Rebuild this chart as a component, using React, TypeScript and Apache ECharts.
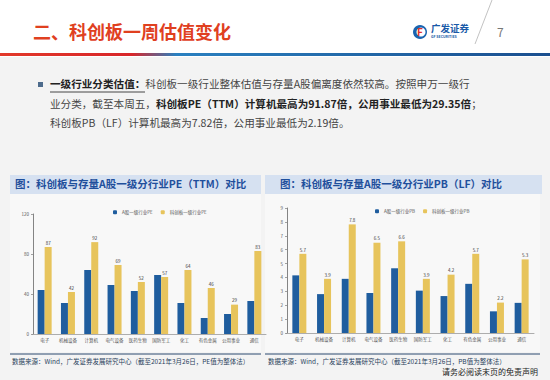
import React, { useEffect, useRef } from "react";
import * as echarts from "echarts";

const categories = ["电子", "机械设备", "计算机", "电气设备", "医药生物", "国防军工", "化工", "有色金属", "公用事业", "通信"];
const peA = [44, 31, 64, 49, 43, 59, 31, 16, 20, 33];
const peStar = [87, 42, 91.87, 69, 52, 57, 64, 46, 29.35, 83];
const pbA = [4.15, 2.8, 3.9, 2.88, 4.66, 3.05, 2.66, 3.54, 1.56, 2.17];
const pbStar = [5.7, 3.9, 7.82, 6.5, 6.6, 3.9, 4.2, 5.7, 2.19, 5.3];
const seriesNames = ["A股一级行业PE", "科创板一级行业PE", "A股一级行业PB", "科创板一级行业PB"];

const FONT = "'Noto Sans CJK SC', 'Noto Sans', sans-serif";
const BLUE = "#1f5d9e";
const YELLOW = "#e7c45c";
const BODY = 10.6;

export default function App() {
  const ref = useRef<HTMLDivElement>(null);
  useEffect(() => {
    if (!ref.current) return;
    const chart = echarts.init(ref.current, null, { renderer: "svg" });
    const axisLabel = { fontSize: 4.5, color: "#555", fontFamily: FONT };
    const xAxisCommon = {
      type: "category" as const,
      data: categories,
      axisLine: { lineStyle: { color: "#999", width: 0.8 } },
      axisTick: { show: false },
      axisLabel: { ...axisLabel, interval: 0, margin: 4 },
    };
    const yAxisCommon = {
      type: "value" as const,
      min: 0,
      axisLine: { show: true, lineStyle: { color: "#666", width: 0.8 } },
      axisTick: { show: true, length: 2, lineStyle: { color: "#666", width: 0.6 } },
      splitLine: { show: false },
      axisLabel: { ...axisLabel, margin: 4 },
    };
    const label = (digits: number) => ({
      show: true,
      position: "top" as const,
      fontSize: 4.5,
      color: "#333",
      fontFamily: FONT,
      distance: 2,
      formatter: (p: any) => (digits === 0 ? String(Math.round(p.value)) : Number(p.value).toFixed(digits)),
    });
    const panelText = (x: number, y: number, text: string) => ({
      type: "text",
      left: x,
      top: y,
      style: { text, fontSize: 10.5, fontWeight: "bold", fill: "#1f4f9c", fontFamily: FONT },
    });
    const rich = {
      b: { fontSize: BODY, fontWeight: "bold", fill: "#222", fontFamily: FONT },
      n: { fontSize: BODY, fill: "#444", fontFamily: FONT },
    };

    chart.setOption({
      animation: false,
      backgroundColor: "#ffffff",
      graphic: [
        { type: "rect", shape: { x: 0, y: 57, width: 550, height: 323 }, style: { fill: "#f3f3f3" }, z: -10 },
        {
          type: "rect",
          shape: { x: 0, y: 53, width: 550, height: 3 },
          style: {
            fill: new echarts.graphic.LinearGradient(0, 0, 1, 0, [
              { offset: 0, color: "#e2392a" },
              { offset: 0.24, color: "#d8262a" },
              { offset: 0.32, color: "#2a80c0" },
              { offset: 1, color: "#1b4f8f" },
            ]),
          },
        },
        {
          type: "text",
          left: 33,
          top: 22,
          style: { text: "二、科创板一周估值变化", fontSize: 18, fontWeight: "bold", fill: "#e0401f", fontFamily: FONT },
        },
        { type: "circle", shape: { cx: 420, cy: 32, r: 7 }, style: { fill: "#1a64b0" } },
        { type: "circle", shape: { cx: 421, cy: 32, r: 4.5 }, style: { fill: "#ffffff" } },
        {
          type: "text",
          left: 417,
          top: 26,
          style: { text: "F", fontSize: 10, fontWeight: "bold", fill: "#e0312a", fontFamily: FONT },
        },
        {
          type: "text",
          left: 431,
          top: 23,
          style: { text: "广发证券", fontSize: 9.5, fontWeight: "bold", fill: "#1a5aa8", fontFamily: FONT },
        },
        {
          type: "text",
          left: 431,
          top: 35,
          style: { text: "GF SECURITIES", fontSize: 3.5, fontWeight: "bold", fill: "#1a5aa8", fontFamily: FONT },
        },
        { type: "line", shape: { x1: 492, y1: 0, x2: 475, y2: 44 }, style: { stroke: "#999", lineWidth: 0.6 } },
        {
          type: "text",
          left: 497,
          top: 25,
          style: { text: "7", fontSize: 12, fill: "#777", fontFamily: FONT },
        },
        { type: "rect", shape: { x: 38, y: 82, width: 5, height: 5 }, style: { fill: "#4d6b8c" } },
        {
          type: "text",
          left: 50,
          top: 78,
          style: {
            text: "{b|一级行业分类估值：}{n|科创板一级行业整体估值与存量A股偏离度依然较高。按照申万一级行}",
            rich,
          },
        },
        { type: "line", shape: { x1: 50, y1: 92, x2: 145, y2: 92 }, style: { stroke: "#333", lineWidth: 0.9 } },
        {
          type: "text",
          left: 50,
          top: 98,
          style: {
            text: "{n|业分类，截至本周五，}{b|科创板PE（TTM）计算机最高为91.87倍，公用事业最低为29.35倍}{n|；}",
            rich,
          },
        },
        {
          type: "text",
          left: 50,
          top: 117,
          style: { text: "科创板PB（LF）计算机最高为7.82倍，公用事业最低为2.19倍。", fontSize: BODY, fill: "#444", fontFamily: FONT },
        },
        { type: "rect", shape: { x: 10, y: 194, width: 251, height: 158 }, style: { fill: "#f8f8f8" }, z: -5 },
        { type: "rect", shape: { x: 265, y: 194, width: 275, height: 158 }, style: { fill: "#f8f8f8" }, z: -5 },
        { type: "rect", shape: { x: 10, y: 175, width: 251, height: 19 }, style: { fill: "#d6e1f1" } },
        { type: "rect", shape: { x: 265, y: 175, width: 277, height: 19 }, style: { fill: "#d6e1f1" } },
        panelText(15, 178, "图：科创板与存量A股一级分行业PE（TTM）对比"),
        panelText(280, 178, "图：科创板与存量A股一级分行业PB（LF）对比"),
        { type: "line", shape: { x1: 10, y1: 354, x2: 261, y2: 354 }, style: { stroke: "#2c4a70", lineWidth: 1 } },
        { type: "line", shape: { x1: 265, y1: 354, x2: 540, y2: 354 }, style: { stroke: "#2c4a70", lineWidth: 1 } },
        {
          type: "text",
          left: 12,
          top: 358,
          style: { text: "数据来源：Wind，广发证券发展研究中心（截至2021年3月26日，PE值为整体法）", fontSize: 6.5, fill: "#2a3f5c", fontFamily: FONT },
        },
        {
          type: "text",
          left: 268,
          top: 358,
          style: { text: "数据来源：Wind，广发证券发展研究中心（截至2021年3月26日，PB值为整体法）", fontSize: 6.5, fill: "#2a3f5c", fontFamily: FONT },
        },
        {
          type: "text",
          right: 12,
          top: 367,
          style: { text: "请务必阅读末页的免责声明", fontSize: 8, fill: "#222", fontFamily: FONT },
        },
      ],
      legend: [
        {
          data: [seriesNames[0], seriesNames[1]],
          left: 108,
          top: 205,
          itemWidth: 4,
          itemHeight: 4,
          itemGap: 8,
          textStyle: { fontSize: 4.5, color: "#555", fontFamily: FONT },
        },
        {
          data: [seriesNames[2], seriesNames[3]],
          left: 370,
          top: 204,
          itemWidth: 4,
          itemHeight: 4,
          itemGap: 8,
          textStyle: { fontSize: 4.5, color: "#555", fontFamily: FONT },
        },
      ],
      grid: [
        { left: 33, right: 284, top: 214, bottom: 46 },
        { left: 287, right: 16, top: 208, bottom: 47 },
      ],
      xAxis: [
        { ...xAxisCommon, gridIndex: 0 },
        { ...xAxisCommon, gridIndex: 1 },
      ],
      yAxis: [
        { ...yAxisCommon, gridIndex: 0, max: 120, interval: 40 },
        { ...yAxisCommon, gridIndex: 1, max: 9, interval: 1 },
      ],
      series: [
        { name: seriesNames[0], type: "bar", xAxisIndex: 0, yAxisIndex: 0, data: peA, barWidth: 7, barGap: "0%", itemStyle: { color: BLUE } },
        { name: seriesNames[1], type: "bar", xAxisIndex: 0, yAxisIndex: 0, data: peStar, barWidth: 7, barGap: "0%", itemStyle: { color: YELLOW }, label: label(0) },
        { name: seriesNames[2], type: "bar", xAxisIndex: 1, yAxisIndex: 1, data: pbA, barWidth: 7, barGap: "0%", itemStyle: { color: BLUE } },
        { name: seriesNames[3], type: "bar", xAxisIndex: 1, yAxisIndex: 1, data: pbStar, barWidth: 7, barGap: "0%", itemStyle: { color: YELLOW }, label: label(1) },
      ],
    });
    return () => chart.dispose();
  }, []);
  return <div ref={ref} style={{ position: "absolute", left: 0, top: 0, width: 550, height: 380 }} />;
}
